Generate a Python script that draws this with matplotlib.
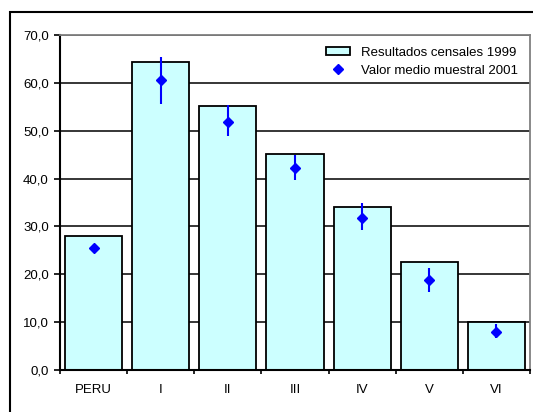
import matplotlib
matplotlib.use("Agg")
import matplotlib.pyplot as plt
from matplotlib.patches import Rectangle
from matplotlib.ticker import FixedLocator, FuncFormatter
import numpy as np

plt.rcParams['font.family'] = ['Liberation Sans', 'DejaVu Sans']
plt.rcParams['font.size'] = 9.5

categories = ['PERU', 'I', 'II', 'III', 'IV', 'V', 'VI']
censo_1999 = [28.1, 64.4, 55.2, 45.2, 34.0, 22.6, 10.0]
media_2001 = [25.5, 60.6, 51.9, 42.3, 31.8, 18.8, 8.0]
err_low = [24.7, 55.6, 48.9, 39.7, 29.3, 16.2, 6.6]
err_high = [26.3, 65.3, 55.3, 44.9, 34.8, 21.4, 9.6]

W, H = 533, 412
fig = plt.figure(figsize=(W / 100, H / 100), dpi=100)
ax = fig.add_axes([60 / W, 1 - 370 / H, 470 / W, 335 / H])

x = np.arange(len(categories))
bars = ax.bar(x, censo_1999, width=0.85, color='#CCFFFF', edgecolor='black',
              linewidth=1.3, zorder=2, label='Resultados censales 1999')
ax.vlines(x, err_low, err_high, color='#0000FF', linewidth=1.5, zorder=3)
pts, = ax.plot(x, media_2001, linestyle='none', marker='D', markersize=5.5,
               color='#0000FF', zorder=4, label='Valor medio muestral 2001')

ax.set_xlim(-0.5, len(categories) - 0.5)
ax.set_ylim(0, 70)
ax.set_yticks(np.arange(0, 71, 10))
ax.yaxis.set_major_formatter(FuncFormatter(lambda v, p: f"{v:.1f}".replace('.', ',')))
ax.yaxis.grid(True, color='black', linewidth=1.1, zorder=0)
ax.set_axisbelow(True)

ax.set_xticks(x)
ax.set_xticklabels(categories)
ax.tick_params(axis='x', which='major', length=0, pad=10)
ax.xaxis.set_minor_locator(FixedLocator(np.arange(-0.5, len(categories), 1)))
ax.tick_params(axis='x', which='minor', length=3, width=1.2, direction='out')
ax.tick_params(axis='y', length=4, width=1.2, direction='out', pad=4)

for s in ['left', 'bottom']:
    ax.spines[s].set_linewidth(1.5)
    ax.spines[s].set_color('black')
for s in ['top', 'right']:
    ax.spines[s].set_linewidth(1.3)
    ax.spines[s].set_color('#808080')

ax.legend(handles=[bars, pts], loc='upper right', bbox_to_anchor=(1.0, 1.0),
          frameon=False, handlelength=1.8, handleheight=0.6, handletextpad=0.85,
          labelspacing=0.45, borderaxespad=0.5, fontsize=9.5)

# outer chart frame
fig.add_artist(Rectangle((10 / W, -0.1), 1.1, 1 - 12 / H + 0.1,
                         transform=fig.transFigure, fill=False,
                         edgecolor='black', linewidth=1.5))

fig.savefig('out.png', dpi=100)
